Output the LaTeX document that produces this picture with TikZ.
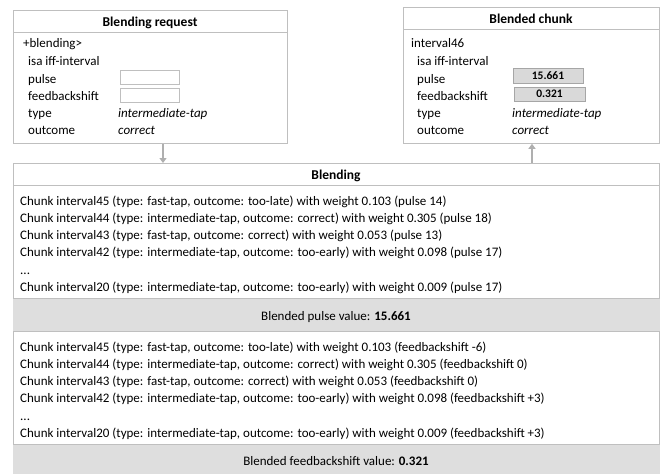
\documentclass[tikz,border=0pt]{standalone}
\usepackage{fontspec}
\setmainfont{Carlito}
\usetikzlibrary{arrows.meta}
\definecolor{bord}{RGB}{191,191,191}
\definecolor{bandc}{RGB}{222,222,222}
\definecolor{valfill}{RGB}{217,217,217}
\definecolor{arrg}{RGB}{175,175,175}
\newcommand{\bodysize}{\fontsize{13}{15}\selectfont}
\tikzset{
 boxline/.style={draw=bord, line width=0.8pt},
 frame/.style={boxline, fill=white, rectangle, inner sep=0pt, anchor=north west},
 boxtitle/.style={font=\fontsize{13.5}{15}\selectfont\bfseries, inner sep=0pt},
 row/.style={anchor=base west, inner sep=0pt},
 italrow/.style={row, font=\bodysize\itshape},
 slot/.style={draw=bord, line width=0.8pt, fill=white, minimum width=59pt, minimum height=14pt, inner sep=0pt},
 valslot/.style={slot, fill=valfill, draw=gray!70, font=\fontsize{11.5}{13}\selectfont\bfseries},
 bandbox/.style={fill=bandc, anchor=north west, inner sep=0pt, rectangle},
 flow/.style={draw=arrg, line width=2.2pt, -{Triangle[width=7pt,length=5pt]}}
}
\begin{document}
\begin{tikzpicture}[x=1pt,y=-1pt, font=\bodysize]
\useasboundingbox (0,0) rectangle (660,474);
\fill[white] (0,0) rectangle (660,474);

% grey bands
\node[bandbox, minimum width=647pt, minimum height=33pt] (band1) at (13,298) {};
\node[bandbox, minimum width=647pt, minimum height=30pt] (band2) at (13,444) {};
\node[inner sep=0pt, anchor=base] (band1T) at (336,320) {Blended pulse value: \textbf{15.661}};
\node[inner sep=0pt, anchor=base] (band2T) at (336,465) {Blended feedbackshift value: \textbf{0.321}};

% Blending request
\node[frame, minimum width=274pt, minimum height=133pt] (req) at (13,10) {};
\draw[boxline] ([yshift=-22pt]req.north west) -- ([yshift=-22pt]req.north east);
\node[boxtitle, anchor=base] (reqT) at (150,26) {Blending request};
\node[row] (reqR1) at (23,47.5) {+blending>};
\node[row] (reqR2) at (28,65.5) {isa iff-interval};
\node[row] (reqR3) at (28,83) {pulse};
\node[row] (reqR4) at (28,100.5) {feedbackshift};
\node[row] (reqR5) at (28,117.5) {type};
\node[row] (reqR6) at (28,134.5) {outcome};
\node[italrow] (reqV5) at (118,117.5) {intermediate-tap};
\node[italrow] (reqV6) at (118,134.5) {correct};
\node[slot] (reqS1) at (149.5,77) {};
\node[slot] (reqS2) at (149.5,95) {};

% Blended chunk
\node[frame, minimum width=256pt, minimum height=136pt] (chunk) at (403,7) {};
\draw[boxline] ([yshift=-22pt]chunk.north west) -- ([yshift=-22pt]chunk.north east);
\node[boxtitle, anchor=base] (chunkT) at (531,23) {Blended chunk};
\node[row] (chR1) at (411,47.5) {interval46};
\node[row] (chR2) at (417,65.5) {isa iff-interval};
\node[row] (chR3) at (417,83) {pulse};
\node[row] (chR4) at (417,100.5) {feedbackshift};
\node[row] (chR5) at (417,117.5) {type};
\node[row] (chR6) at (417,134.5) {outcome};
\node[italrow] (chV5) at (512,117.5) {intermediate-tap};
\node[italrow] (chV6) at (512,134.5) {correct};
\node[valslot, minimum width=70pt, minimum height=15pt] (chS1) at (548,75.5) {15.661};
\node[valslot, minimum width=71pt, minimum height=14pt] (chS2) at (549.5,94) {0.321};

% Blending
\node[frame, minimum width=646pt, minimum height=135pt] (blend) at (13,163) {};
\draw[boxline] ([yshift=-22pt]blend.north west) -- ([yshift=-22pt]blend.north east);
\node[boxtitle, anchor=base] (blendT) at (336,179) {Blending};
\node[row] (pl1) at (20,205) {Chunk interval45 (type: fast-tap, outcome: too-late) with weight 0.103 (pulse 14)};
\node[row] (pl2) at (20,222.3) {Chunk interval44 (type: intermediate-tap, outcome: correct) with weight 0.305 (pulse 18)};
\node[row] (pl3) at (20,239.6) {Chunk interval43 (type: fast-tap, outcome: correct) with weight 0.053 (pulse 13)};
\node[row] (pl4) at (20,256.9) {Chunk interval42 (type: intermediate-tap, outcome: too-early) with weight 0.098 (pulse 17)};
\node[row] (pl5) at (20,274.2) {...};
\node[row] (pl6) at (20,291.5) {Chunk interval20 (type: intermediate-tap, outcome: too-early) with weight 0.009 (pulse 17)};

\node[frame, minimum width=646pt, minimum height=113pt] (list2) at (13,331) {};
\node[row] (fl1) at (20,351) {Chunk interval45 (type: fast-tap, outcome: too-late) with weight 0.103 (feedbackshift -6)};
\node[row] (fl2) at (20,368.3) {Chunk interval44 (type: intermediate-tap, outcome: correct) with weight 0.305 (feedbackshift 0)};
\node[row] (fl3) at (20,385.6) {Chunk interval43 (type: fast-tap, outcome: correct) with weight 0.053 (feedbackshift 0)};
\node[row] (fl4) at (20,402.9) {Chunk interval42 (type: intermediate-tap, outcome: too-early) with weight 0.098 (feedbackshift +3)};
\node[row] (fl5) at (20,420.2) {...};
\node[row] (fl6) at (20,437.5) {Chunk interval20 (type: intermediate-tap, outcome: too-early) with weight 0.009 (feedbackshift +3)};

% arrows
\coordinate (a1) at (163,0);
\coordinate (a2) at (532,0);
\draw[flow] ([yshift=-0.5pt]req.south -| a1) -- (blend.north -| a1);
\draw[flow] ([yshift=0.5pt]blend.north -| a2) -- (chunk.south -| a2);
\end{tikzpicture}
\end{document}
